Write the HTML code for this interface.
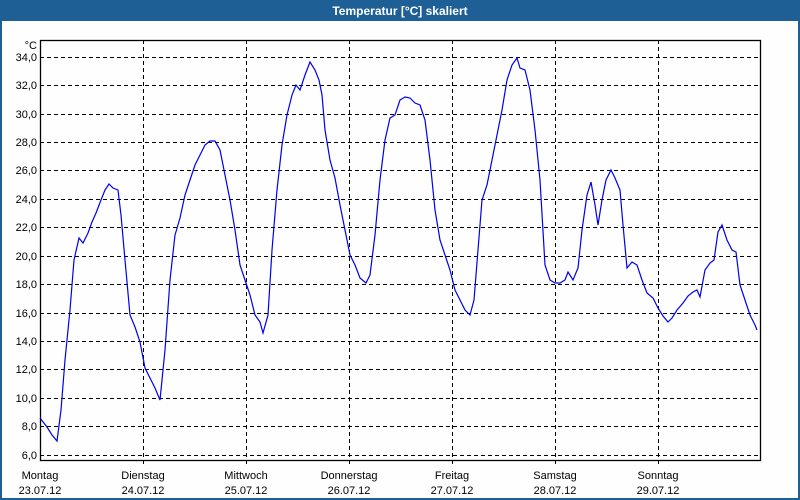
<!DOCTYPE html>
<html><head><meta charset="utf-8"><style>
html,body{margin:0;padding:0;background:#fff;}
svg{display:block;font-family:"Liberation Sans","DejaVu Sans",sans-serif;}
</style></head><body>
<svg width="800" height="500" xmlns="http://www.w3.org/2000/svg">
<rect x="0" y="0" width="800" height="500" fill="#1e6096"/>
<rect x="2" y="21" width="796" height="477" fill="#fdfefd"/>
<text x="400" y="15" fill="#fff" font-size="12" font-weight="bold" text-anchor="middle">Temperatur [°C] skaliert</text>
<g stroke="#000" stroke-width="1" stroke-dasharray="4,3" fill="none">
<path d="M40 57.5H760M40 85.5H760M40 114.5H760M40 142.5H760M40 170.5H760M40 199.5H760M40 227.5H760M40 256.5H760M40 284.5H760M40 313.5H760M40 341.5H760M40 369.5H760M40 398.5H760M40 426.5H760M40 455.5H760"/>
<path d="M143.5 40V466M246.5 40V466M349.5 40V466M452.5 40V466M555.5 40V466M658.5 40V466"/>
</g>
<rect x="40.5" y="40.5" width="720" height="420" fill="none" stroke="#000" stroke-width="1.3"/>
<g font-size="11" fill="#000" text-anchor="end">
<text x="37" y="49">°C</text>
<text x="37" y="61">34,0</text><text x="37" y="89">32,0</text><text x="37" y="118">30,0</text>
<text x="37" y="146">28,0</text><text x="37" y="174">26,0</text><text x="37" y="203">24,0</text>
<text x="37" y="231">22,0</text><text x="37" y="260">20,0</text><text x="37" y="288">18,0</text>
<text x="37" y="317">16,0</text><text x="37" y="345">14,0</text><text x="37" y="373">12,0</text>
<text x="37" y="402">10,0</text><text x="37" y="430">8,0</text><text x="37" y="459">6,0</text>
</g>
<g font-size="11" fill="#000" text-anchor="middle">
<text x="40" y="479">Montag</text><text x="40" y="494">23.07.12</text>
<text x="143" y="479">Dienstag</text><text x="143" y="494">24.07.12</text>
<text x="246" y="479">Mittwoch</text><text x="246" y="494">25.07.12</text>
<text x="349" y="479">Donnerstag</text><text x="349" y="494">26.07.12</text>
<text x="452" y="479">Freitag</text><text x="452" y="494">27.07.12</text>
<text x="555" y="479">Samstag</text><text x="555" y="494">28.07.12</text>
<text x="658" y="479">Sonntag</text><text x="658" y="494">29.07.12</text>
</g>
<polyline fill="none" stroke="#0000ee" stroke-width="1.2" points="40,418 47,427 52,435 57,441 61,410 65,360 70,310 74,260 79,238 83,243 88,233 92,222 96,213 101,200 105,190 109,184 113,188 118,190 121,215 125,260 130,315 135,327 140,342 145,368 150,378 155,388 160,400 165,350 170,280 175,235 180,218 185,195 190,180 195,165 200,155 205,145 210,141 215,141 220,150 225,175 230,200 235,230 240,265 245,280 250,295 255,315 260,322 263,333 268,315 272,250 277,190 282,145 287,115 292,95 296,85 300,90 305,75 310,62 315,70 319,80 322,95 325,130 330,160 335,178 340,205 345,230 350,255 355,265 360,278 366,283 370,275 375,235 380,180 385,140 390,118 395,115 400,100 405,97 410,98 415,103 420,105 425,120 430,160 435,210 440,240 445,255 450,270 455,290 460,300 465,310 470,315 474,300 478,250 482,200 487,185 492,160 497,135 502,110 507,80 512,65 517,58 520,68 525,70 530,90 535,130 540,180 545,265 550,280 555,283 560,283 565,280 568,272 573,280 578,268 582,230 587,195 591,182 595,205 598,225 602,200 606,180 611,170 615,178 620,190 623,225 627,268 632,262 637,265 642,280 647,293 653,298 658,308 663,316 668,322 672,318 677,310 683,303 688,296 693,292 697,290 700,297 705,270 710,263 714,260 718,232 722,225 727,240 732,250 736,252 740,285 745,300 750,315 755,325 757,330"/>
</svg>
</body></html>
